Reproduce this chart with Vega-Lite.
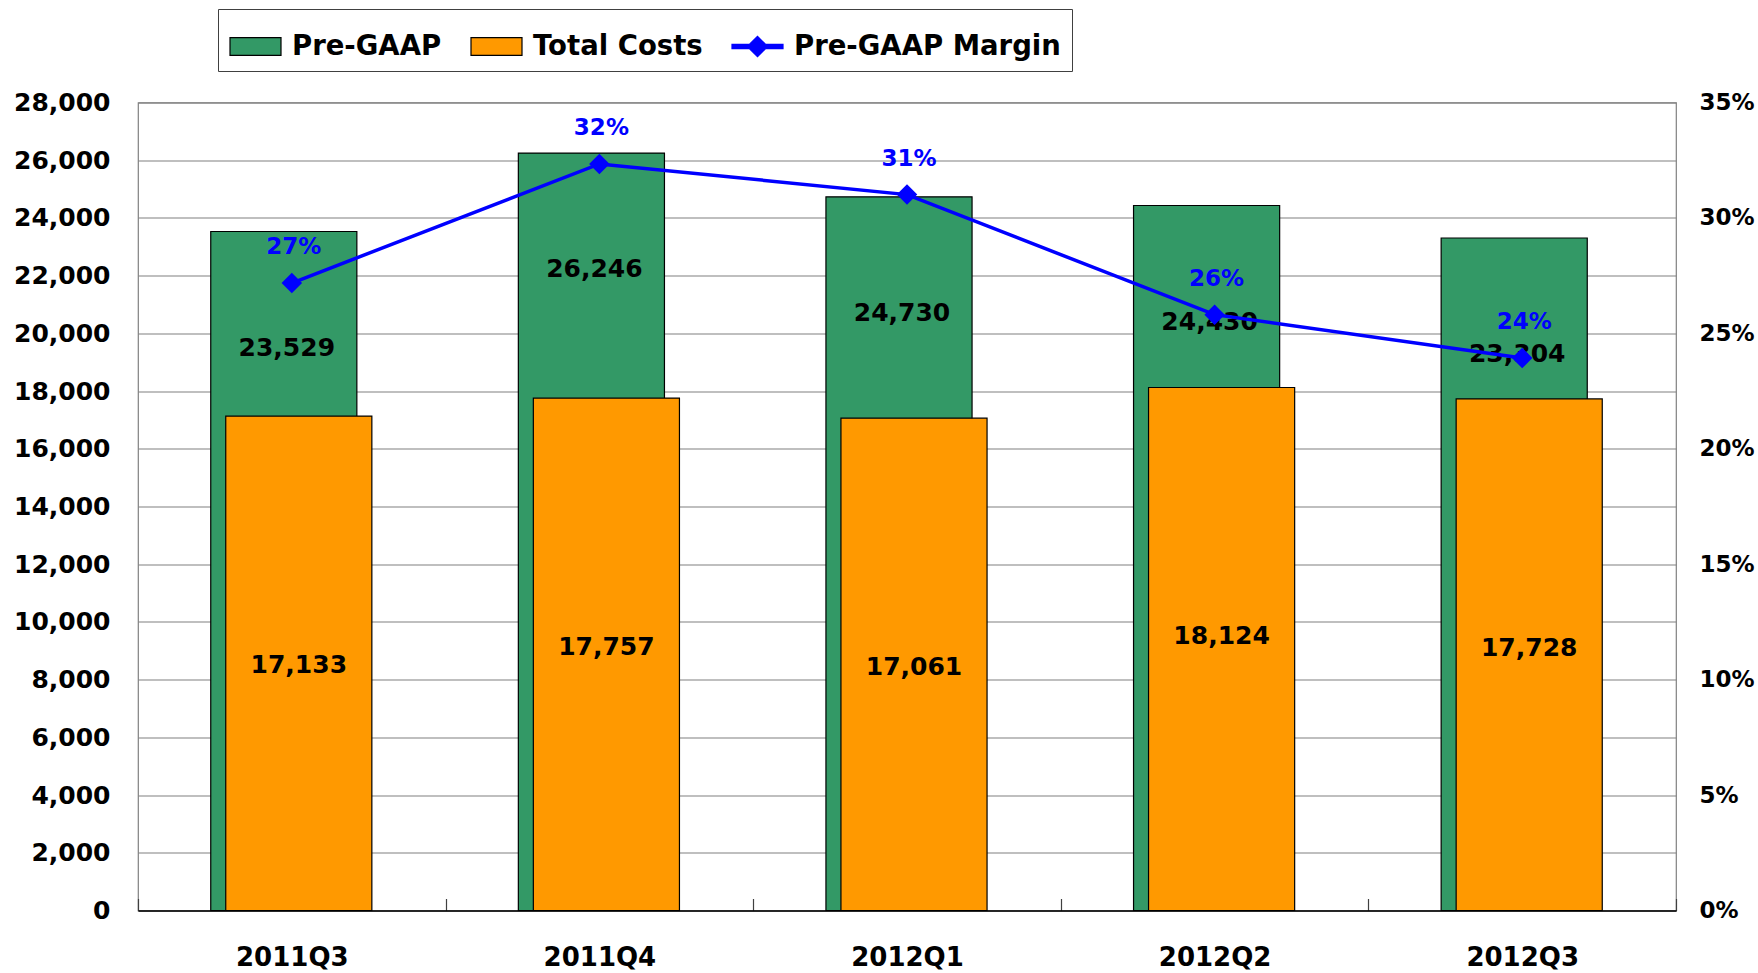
{
  "$schema": "https://vega.github.io/schema/vega-lite/v6.json",
  "width": 1538,
  "height": 808,
  "autosize": {"type": "none"},
  "padding": {"left": 138, "top": 102.5, "right": 82, "bottom": 62.5},
  "background": "white",
  "config": {
    "font": "DejaVu Sans",
    "view": {"stroke": "#808080", "strokeWidth": 1.2},
    "legend": {
      "orient": "none",
      "legendX": 80,
      "legendY": -93.5,
      "direction": "horizontal",
      "symbolSize": 2601,
      "labelFontSize": 27.5,
      "labelFontWeight": "bold",
      "labelColor": "black",
      "labelLimit": 500,
      "labelOffset": 10,
      "columnPadding": 26,
      "padding": 11,
      "strokeColor": "#404040",
      "fillColor": "white",
      "symbolStrokeWidth": 1.2,
      "symbolOpacity": 1
    }
  },
  "data": {
    "values": [
      {"quarter": "2011Q3", "pregaap": 23529, "costs": 17133, "margin": 0.2718, "marginLabel": "27%"},
      {"quarter": "2011Q4", "pregaap": 26246, "costs": 17757, "margin": 0.3234, "marginLabel": "32%"},
      {"quarter": "2012Q1", "pregaap": 24730, "costs": 17061, "margin": 0.3101, "marginLabel": "31%"},
      {"quarter": "2012Q2", "pregaap": 24430, "costs": 18124, "margin": 0.2581, "marginLabel": "26%"},
      {"quarter": "2012Q3", "pregaap": 23304, "costs": 17728, "margin": 0.2393, "marginLabel": "24%"}
    ]
  },
  "layer": [
    {
      "encoding": {
        "x": {
          "field": "quarter",
          "type": "nominal",
          "sort": null,
          "scale": {"paddingInner": 0, "paddingOuter": 0},
          "axis": {
            "title": null,
            "labelAngle": 0,
            "labelFontSize": 26,
            "labelFontWeight": "bold",
            "labelColor": "black",
            "labelBaseline": "top",
            "tickBand": "extent",
            "tickSize": -12,
            "tickColor": "#404040",
            "tickWidth": 1.2,
            "labelPadding": 46,
            "domainColor": "black",
            "domainWidth": 1.5,
            "grid": false
          }
        }
      },
      "layer": [
        {
          "mark": {"type": "bar", "xOffset": -8, "width": {"band": 0.475}, "fill": "#339966", "stroke": "black", "strokeWidth": 1.2, "opacity": 1},
          "encoding": {
            "y": {
              "field": "pregaap",
              "type": "quantitative",
              "scale": {"domain": [0, 28000], "nice": false},
              "axis": {
                "title": null,
                "orient": "left",
                "values": [0, 2000, 4000, 6000, 8000, 10000, 12000, 14000, 16000, 18000, 20000, 22000, 24000, 26000, 28000],
                "format": ",d",
                "labelFontSize": 25,
                "labelFontWeight": "bold",
                "labelColor": "black",
                "labelPadding": 28,
                "ticks": false,
                "domain": false,
                "grid": true,
                "gridColor": "#808080",
                "gridWidth": 1.2
              }
            }
          }
        },
        {
          "mark": {"type": "bar", "xOffset": 7, "width": {"band": 0.475}, "fill": "#FF9900", "stroke": "black", "strokeWidth": 1.2, "opacity": 1},
          "encoding": {
            "y": {"field": "costs", "type": "quantitative", "axis": {"title": null, "grid": true}}
          }
        },
        {
          "mark": {"type": "text", "dy": 116, "dx": -5, "fontSize": 25, "fontWeight": "bold", "color": "black", "baseline": "middle"},
          "encoding": {
            "y": {"field": "pregaap", "type": "quantitative", "axis": {"title": null, "grid": true}},
            "text": {"field": "pregaap", "type": "quantitative", "format": ","}
          }
        },
        {
          "mark": {"type": "text", "dy": 249, "dx": 7, "fontSize": 25, "fontWeight": "bold", "color": "black", "baseline": "middle"},
          "encoding": {
            "y": {"field": "costs", "type": "quantitative", "axis": {"title": null, "grid": true}},
            "text": {"field": "costs", "type": "quantitative", "format": ","}
          }
        }
      ]
    },
    {
      "layer": [
        {
          "mark": {"type": "line", "strokeWidth": 3.5, "color": "#0000FF"},
          "encoding": {
            "x": {"field": "quarter", "type": "nominal", "sort": null},
            "y": {
              "field": "margin",
              "type": "quantitative",
              "scale": {"domain": [0, 0.35], "nice": false},
              "axis": {
                "title": null,
                "orient": "right",
                "values": [0, 0.05, 0.1, 0.15, 0.2, 0.25, 0.3, 0.35],
                "format": ".0%",
                "labelFontSize": 23,
                "labelFontWeight": "bold",
                "labelColor": "black",
                "labelPadding": 23,
                "ticks": false,
                "domain": false,
                "grid": false
              }
            }
          }
        },
        {
          "mark": {"type": "point", "shape": "diamond", "filled": true, "size": 420, "color": "#0000FF", "opacity": 1},
          "encoding": {
            "x": {"field": "quarter", "type": "nominal", "sort": null},
            "y": {"field": "margin", "type": "quantitative", "axis": {"title": null, "grid": false, "orient": "right"}}
          }
        },
        {
          "mark": {"type": "text", "dy": -36, "dx": 2, "fontSize": 23, "fontWeight": "bold", "color": "#0000FF", "baseline": "middle"},
          "encoding": {
            "x": {"field": "quarter", "type": "nominal", "sort": null},
            "y": {"field": "margin", "type": "quantitative", "axis": {"title": null, "grid": false, "orient": "right"}},
            "text": {"field": "marginLabel", "type": "nominal"}
          }
        },
        {
          "data": {"values": [{"series": "Pre-GAAP"}, {"series": "Total Costs"}, {"series": "Pre-GAAP Margin"}]},
          "mark": {"type": "point", "filled": true, "opacity": 0},
          "encoding": {
            "color": {
              "field": "series",
              "type": "nominal",
              "scale": {"domain": ["Pre-GAAP", "Total Costs", "Pre-GAAP Margin"], "range": ["#339966", "#FF9900", "#0000FF"]},
              "legend": {"title": null}
            },
            "shape": {
              "field": "series",
              "type": "nominal",
              "scale": {"domain": ["Pre-GAAP", "Total Costs", "Pre-GAAP Margin"], "range": ["M-1,-0.35H1V0.35H-1Z", "M-1,-0.35H1V0.35H-1Z", "M-1,-0.08H-0.32L0,-0.4L0.32,-0.08H1V0.08H0.32L0,0.4L-0.32,0.08H-1Z"]},
              "legend": {"title": null}
            },
            "stroke": {
              "field": "series",
              "type": "nominal",
              "scale": {"domain": ["Pre-GAAP", "Total Costs", "Pre-GAAP Margin"], "range": ["black", "black", "#0000FF"]},
              "legend": {"title": null}
            }
          }
        }
      ]
    }
  ],
  "resolve": {"scale": {"y": "independent"}}
}
